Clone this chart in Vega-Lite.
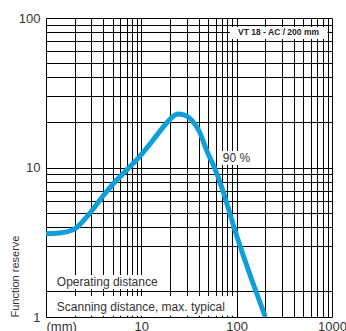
{
  "$schema": "https://vega.github.io/schema/vega-lite/v6.json",
  "width": 286,
  "height": 299,
  "autosize": {"type": "none"},
  "padding": {"left": 46, "top": 18, "right": 14, "bottom": 14},
  "background": "white",
  "config": {
    "view": {"stroke": null},
    "font": "Liberation Sans",
    "axis": {"domain": false, "ticks": false, "grid": true, "gridColor": "#000000", "gridWidth": 1, "gridOpacity": 1, "labelFont": "Liberation Sans", "labelColor": "#333333", "labelFontSize": 13, "labelOverlap": false, "labelBound": false, "labelFlush": false}
  },
  "datasets": {
    "curve": [
      {"d": 1, "r": 3.6}, {"d": 1.5, "r": 3.67}, {"d": 2, "r": 3.88}, {"d": 2.5, "r": 4.45},
      {"d": 3, "r": 5.1}, {"d": 4, "r": 6.5}, {"d": 5, "r": 7.7}, {"d": 7, "r": 9.6},
      {"d": 10, "r": 12.2}, {"d": 13, "r": 15.0}, {"d": 16, "r": 17.8}, {"d": 20, "r": 21.0},
      {"d": 24, "r": 22.8}, {"d": 28, "r": 22.5}, {"d": 33, "r": 21.0}, {"d": 40, "r": 17.7},
      {"d": 50, "r": 12.4}, {"d": 60, "r": 9.6}, {"d": 70, "r": 7.3}, {"d": 100, "r": 3.5},
      {"d": 150, "r": 1.65}, {"d": 200, "r": 1}
    ],
    "boxes": [
      {"x1": 1.24, "x2": 20, "y1": 1.54, "y2": 1.91},
      {"x1": 1.24, "x2": 91.6, "y1": 1.02, "y2": 1.38},
      {"x1": 85, "x2": 900, "y1": 72.4, "y2": 87.1},
      {"x1": 70.3, "x2": 156, "y1": 10.4, "y2": 12.9}
    ],
    "labels": [
      {"x": 1.3, "y": 1.71, "t": "Operating distance"},
      {"x": 1.3, "y": 1.175, "t": "Scanning distance, max. typical"},
      {"x": 71.5, "y": 11.6, "t": "90 %"}
    ],
    "title": [
      {"x": 275, "y": 80.6, "t": "VT 18 - AC / 200 mm"}
    ]
  },
  "encoding": {
    "x": {"type": "quantitative"},
    "y": {"type": "quantitative"}
  },
  "layer": [
    {
      "data": {"name": "boxes"},
      "mark": {"type": "rect", "fill": "white", "stroke": null},
      "encoding": {
        "x": {"field": "x1", "type": "quantitative",
          "scale": {"type": "log", "domain": [1, 1000], "nice": false},
          "axis": {"title": null, "values": [1,2,3,4,5,6,7,8,9,10,20,30,40,50,60,70,80,90,100,200,300,400,500,600,700,800,900,1000],
            "labelExpr": "datum.value == 1 ? '(mm)' : (datum.value == 10 || datum.value == 100 || datum.value == 1000 ? format(datum.value, 'd') : '')",
            "labelAlign": {"condition": {"test": "datum.value == 1", "value": "left"}, "value": "center"},
            "labelPadding": 3, "labelBaseline": "top"}},
        "x2": {"field": "x2"},
        "y": {"field": "y1", "type": "quantitative",
          "scale": {"type": "log", "domain": [1, 100], "nice": false},
          "axis": {"title": "Function reserve", "values": [1,1.5,3,4,5,6,7,8,9,10,20,30,40,50,60,70,80,90,100],
            "labelExpr": "indexof([1,10,100], datum.value) >= 0 ? format(datum.value, 'd') : ''",
            "labelPadding": 6, "titleAnchor": "start", "titleFontSize": 11, "titleFontWeight": "normal",
            "titleColor": "#333333", "titleFont": "Liberation Sans", "titlePadding": -2}},
        "y2": {"field": "y2"}
      }
    },
    {
      "data": {"name": "curve"},
      "mark": {"type": "line", "color": "#0f9fd8", "strokeWidth": 5, "interpolate": "monotone", "strokeCap": "butt"},
      "encoding": {
        "x": {"field": "d", "type": "quantitative"},
        "y": {"field": "r", "type": "quantitative"}
      }
    },
    {
      "data": {"name": "labels"},
      "mark": {"type": "text", "align": "left", "baseline": "middle", "fontSize": 12, "color": "#333333", "font": "Liberation Sans"},
      "encoding": {
        "x": {"field": "x", "type": "quantitative"},
        "y": {"field": "y", "type": "quantitative"},
        "text": {"field": "t"}
      }
    },
    {
      "data": {"name": "title"},
      "mark": {"type": "text", "align": "center", "baseline": "middle", "fontSize": 8.5, "fontWeight": "bold", "color": "#222222", "font": "Liberation Sans"},
      "encoding": {
        "x": {"field": "x", "type": "quantitative"},
        "y": {"field": "y", "type": "quantitative"},
        "text": {"field": "t"}
      }
    }
  ]
}
